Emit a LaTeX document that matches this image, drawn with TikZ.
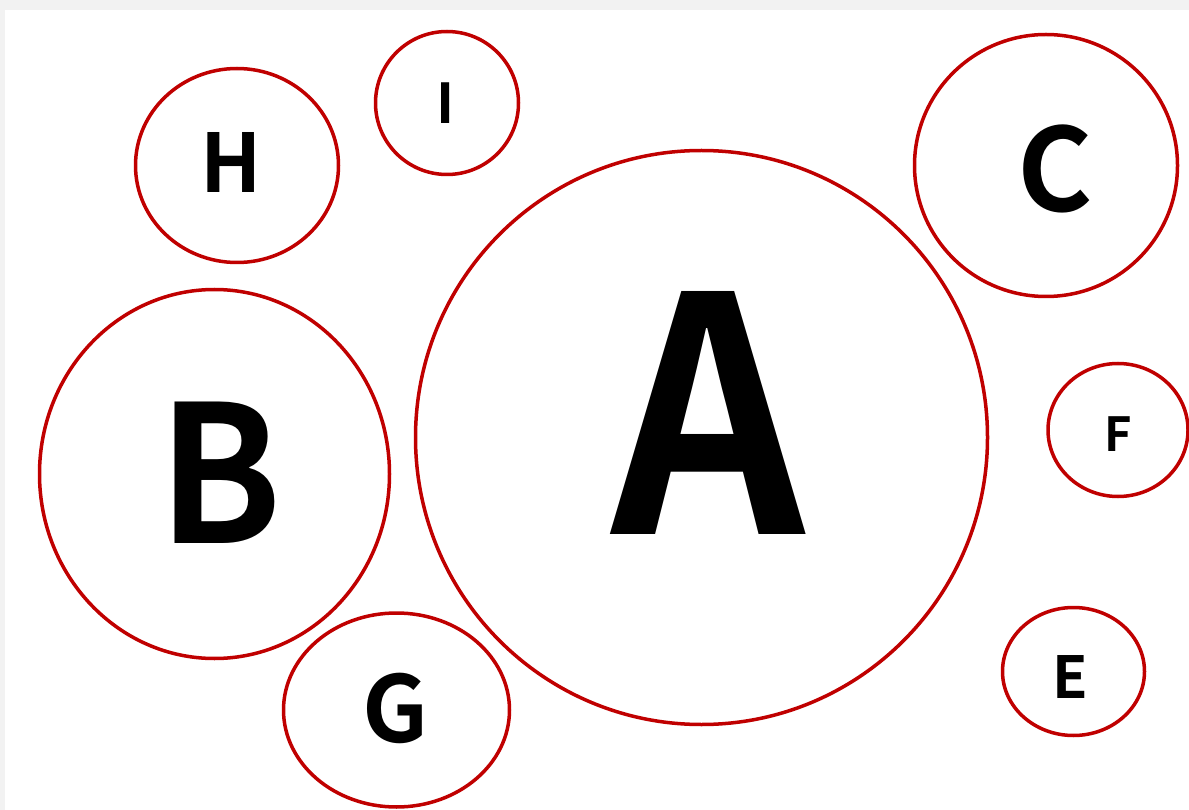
\documentclass[tikz,border=0pt]{standalone}
\usepackage{fontspec}
\newfontfamily\letterfont{Noto Sans CJK SC}[BoldFont={* Bold}]
\usetikzlibrary{shapes.geometric}
\definecolor{bubbleLineColor}{RGB}{192,0,0}
\definecolor{bubblePageColor}{RGB}{242,242,242}
\begin{document}
\begin{tikzpicture}
% bubble chart, one unit per pixel
\providecommand{\bubbleLineWidth}{3.5pt}
\begin{scope}[x=1pt, y=-1pt,
  bubble/.style={ellipse, draw=bubbleLineColor, line width=\bubbleLineWidth, inner sep=0pt},
  letter/.style={inner sep=0pt, font=\letterfont\bfseries\fontsize{#1}{#1}\selectfont}]
  \useasboundingbox (0,0) rectangle (1189,810);
  % Page and sheet
  \fill[bubblePageColor] (0,0) rectangle (1189,810);
  \fill[white] (5,10) rectangle (1189,810);
  % Bubbles
  \node[bubble, minimum width=572pt, minimum height=574pt] (bubbleA) at (701.5,437.5) {};
  \node[bubble, minimum width=350pt, minimum height=369pt] (bubbleB) at (214.5,474) {};
  \node[bubble, minimum width=263pt, minimum height=262pt] (bubbleC) at (1046,165.5) {};
  \node[bubble, minimum width=203pt, minimum height=194pt] (bubbleH) at (237,165.5) {};
  \node[bubble, minimum width=143pt, minimum height=143pt] (bubbleI) at (447,103) {};
  \node[bubble, minimum width=140pt, minimum height=133pt] (bubbleF) at (1118,430) {};
  \node[bubble, minimum width=142pt, minimum height=128pt] (bubbleE) at (1073.5,671.5) {};
  \node[bubble, minimum width=226pt, minimum height=194pt] (bubbleG) at (396.5,710) {};
  % Labels
  \node[letter=328, xscale=0.92] (labelA) at (708,412.5) {A};
  \node[letter=191, xscale=0.95] (labelB) at (220,473) {B};
  \node[letter=115] (labelC) at (1055,168.5) {C};
  \node[letter=81] (labelH) at (231.5,162.5) {H};
  \node[letter=55] (labelI) at (446,103) {I};
  \node[letter=47] (labelF) at (1118.5,434) {F};
  \node[letter=58] (labelE) at (1070,677.5) {E};
  \node[letter=92] (labelG) at (395,708) {G};
\end{scope}
\end{tikzpicture}
\end{document}
